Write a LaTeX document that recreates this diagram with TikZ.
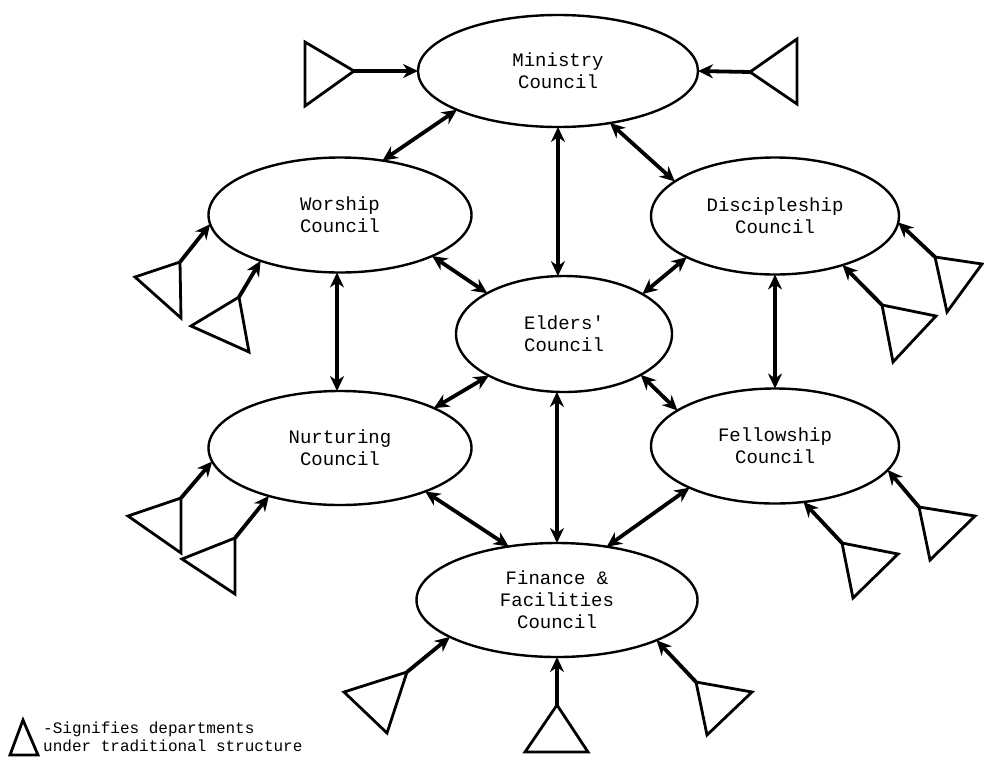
\documentclass[tikz,border=0pt]{standalone}
\usepackage{fontspec}
\setmonofont{Liberation Mono}
\usetikzlibrary{shapes.geometric, arrows.meta}

\tikzset{
    % council bubbles
    council/.style={
        ellipse,
        draw=black,
        line width=2.4pt,
        inner sep=0pt,
        outer sep=0pt,
        align=center,
        font=\ttfamily\fontsize{19}{22}\selectfont
    },
    % departments under the old structure
    dept/.style={
        draw=black,
        line width=2.8pt,
        line join=miter
    },
    % arrows
    arrow/.style={
        -{Stealth[length=15pt,width=14pt]},
        line width=3.8pt
    },
    twoway/.style={
        {Stealth[length=15pt,width=14pt]}-{Stealth[length=15pt,width=14pt]},
        line width=3.8pt
    },
    legend/.style={
        anchor=west,
        inner sep=0pt,
        font=\ttfamily\fontsize{16}{17}\selectfont
    }
}

\begin{document}
\begin{tikzpicture}[x=1pt, y=-1pt]
    \useasboundingbox (0,0) rectangle (984,758);

    % councils
    \node[council, minimum width=280pt, minimum height=112pt] (ministry) at (558,71) {Ministry\\Council};
    \node[council, minimum width=263pt, minimum height=115pt] (worship) at (340,215) {Worship\\Council};
    \node[council, minimum width=248pt, minimum height=117pt] (disc) at (775,216) {Discipleship\\Council};
    \node[council, minimum width=216pt, minimum height=116pt] (elders) at (564,334) {Elders'\\Council};
    \node[council, minimum width=263pt, minimum height=114pt] (nurture) at (340,448) {Nurturing\\Council};
    \node[council, minimum width=248pt, minimum height=115pt] (fellow) at (775,446) {Fellowship\\Council};
    \node[council, minimum width=281pt, minimum height=114pt] (finance) at (557,600) {Finance \&\\Facilities\\Council};

    % links between councils
    \draw[twoway] (worship.52) -- (ministry.201);
    \draw[twoway] (ministry.-45) -- (disc.161);
    \draw[twoway] (ministry.-90) -- (elders.96);
    \draw[twoway] (worship.-24) -- (elders.152);
    \draw[twoway] (disc.205) -- (elders.27);
    \draw[twoway] (worship.-93) -- (nurture.93);
    \draw[twoway] (disc.-90) -- (fellow.90);
    \draw[twoway] (elders.209) -- (nurture.23);
    \draw[twoway] (elders.-28) -- (fellow.160);
    \draw[twoway] (elders.-97) -- (finance.90);
    \draw[twoway] (nurture.-27) -- (finance.132);
    \draw[twoway] (fellow.206) -- (finance.47);

    % departments feeding each council
    \draw[dept] (354,71) coordinate (minL) -- (305,42) -- (305,106) -- cycle;
    \draw[dept] (750,72) coordinate (minR) -- (797,39) -- (797,104) -- cycle;
    \draw[arrow] (minL) -- (ministry.180);
    \draw[arrow] (minR) -- (ministry.0);

    \draw[dept] (180,262) coordinate (worA) -- (181,318) -- (135,277) -- cycle;
    \draw[dept] (239,297) coordinate (worB) -- (249,352) -- (191,326) -- cycle;
    \draw[arrow] (worA) -- (worship.184);
    \draw[arrow] (worB) -- (worship.210);

    \draw[dept] (181,498) coordinate (nurA) -- (181,553) -- (128,516) -- cycle;
    \draw[dept] (235,538) coordinate (nurB) -- (235,594) -- (182,559) -- cycle;
    \draw[arrow] (nurA) -- (nurture.186);
    \draw[arrow] (nurB) -- (nurture.214);

    \draw[dept] (935,257) coordinate (disA) -- (982,264) -- (947,312) -- cycle;
    \draw[dept] (882,305) coordinate (disB) -- (936,316) -- (893,362) -- cycle;
    \draw[arrow] (disA) -- (disc.-3);
    \draw[arrow] (disB) -- (disc.-36);

    \draw[dept] (919,507) coordinate (felA) -- (975,516) -- (930,560) -- cycle;
    \draw[dept] (842,543) coordinate (felB) -- (898,554) -- (853,598) -- cycle;
    \draw[arrow] (felA) -- (fellow.-12);
    \draw[arrow] (felB) -- (fellow.-63);

    \draw[dept] (407,672) coordinate (finA) -- (344,692) -- (387,733) -- cycle;
    \draw[dept] (557,705) coordinate (finB) -- (525,752) -- (588,752) -- cycle;
    \draw[dept] (696,682) coordinate (finC) -- (752,692) -- (707,735) -- cycle;
    \draw[arrow] (finA) -- (finance.199);
    \draw[arrow] (finB) -- (finance.-90);
    \draw[arrow] (finC) -- (finance.-22);

    % key
    \draw[dept] (23,720) -- (10,755) -- (38,755) -- cycle;
    \node[legend] (key1) at (43,729) {-Signifies departments};
    \node[legend] (key2) at (43,746) {under traditional structure};
\end{tikzpicture}
\end{document}
